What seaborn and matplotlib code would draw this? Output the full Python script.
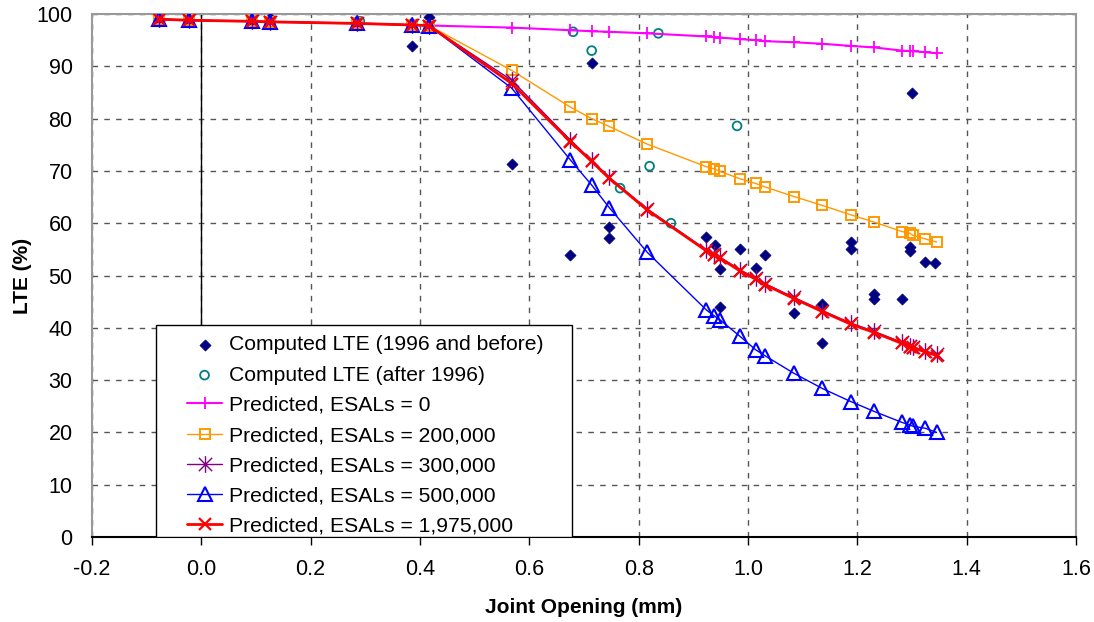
import numpy as np
import matplotlib
matplotlib.use("Agg")
import matplotlib.pyplot as plt
from matplotlib.path import Path
from matplotlib.patches import Rectangle
import seaborn as sns

# joint opening (mm) where the model was evaluated
x_pred = [-0.077, -0.022, 0.093, 0.125, 0.284, 0.386, 0.416, 0.568, 0.675, 0.714,
          0.746, 0.816, 0.924, 0.938, 0.949, 0.985, 1.014, 1.032, 1.084, 1.136,
          1.188, 1.231, 1.282, 1.296, 1.301, 1.324, 1.345]

lte_esal_0 = [99.0, 98.8, 98.6, 98.5, 98.2, 97.9, 97.8, 97.4, 96.9, 96.7,
              96.6, 96.3, 95.7, 95.6, 95.5, 95.2, 95.0, 94.8, 94.6, 94.3,
              93.9, 93.6, 93.0, 92.9, 92.9, 92.7, 92.5]
lte_esal_200k = [99.0, 98.8, 98.6, 98.5, 98.2, 97.9, 97.8, 89.2, 82.2, 80.0,
                 78.5, 75.1, 70.8, 70.4, 69.9, 68.5, 67.6, 66.9, 65.1, 63.4,
                 61.6, 60.2, 58.4, 58.1, 57.7, 57.0, 56.4]
lte_esal_300k = [99.0, 98.8, 98.6, 98.5, 98.2, 97.9, 97.8, 87.3, 75.9, 72.0,
                 68.8, 62.7, 54.9, 54.1, 53.5, 51.1, 49.5, 48.4, 45.8, 43.3,
                 40.9, 39.3, 37.2, 36.6, 36.4, 35.6, 34.9]
lte_esal_500k = [99.0, 98.8, 98.6, 98.5, 98.2, 97.9, 97.8, 85.8, 72.1, 67.3,
                 63.0, 54.4, 43.4, 42.3, 41.5, 38.4, 35.8, 34.6, 31.3, 28.4,
                 25.9, 24.0, 21.9, 21.4, 21.2, 20.8, 20.0]
lte_esal_1975k = [99.0, 98.8, 98.6, 98.5, 98.2, 97.9, 97.8, 86.7, 75.6, 71.8,
                  68.6, 62.5, 54.7, 53.9, 53.3, 50.9, 49.3, 48.2, 45.6, 43.1,
                  40.7, 39.1, 37.0, 36.4, 36.2, 35.4, 34.7]

# computed LTE, 1996 and before
x_old = [-0.077, -0.022, 0.093, 0.125, 0.284, 0.386, 0.416, 0.568, 0.675, 0.714,
         0.746, 0.746, 0.924, 0.940, 0.949, 0.949, 0.985, 1.014, 1.032, 1.084,
         1.136, 1.136, 1.188, 1.188, 1.231, 1.231, 1.282, 1.296, 1.296, 1.300,
         1.324, 1.342]
y_old = [98.6, 98.7, 98.6, 99.2, 98.0, 93.8, 99.4, 71.3, 53.9, 90.6,
         59.2, 57.2, 57.4, 55.8, 51.2, 43.9, 55.0, 51.4, 53.9, 42.8,
         44.6, 37.0, 56.5, 55.0, 46.4, 45.6, 45.6, 55.5, 54.7, 84.8,
         52.6, 52.4]

# computed LTE, after 1996
x_new = [0.290, 0.680, 0.714, 0.766, 0.820, 0.836, 0.859, 0.980]
y_new = [98.6, 96.6, 93.0, 66.7, 70.9, 96.3, 60.0, 78.6]

x_ticks = [-0.2, 0.0, 0.2, 0.4, 0.6, 0.8, 1.0, 1.2, 1.4, 1.6]
y_ticks = [0, 10, 20, 30, 40, 50, 60, 70, 80, 90, 100]

sns.set_style("white")
plt.rcParams["font.family"] = ["Liberation Sans", "DejaVu Sans"]
plt.rcParams["text.color"] = "black"
plt.rcParams["axes.labelcolor"] = "black"
plt.rcParams["xtick.color"] = "black"
plt.rcParams["ytick.color"] = "black"

# excel style asterisk: vertical bar plus an x
star = Path([(0, -1), (0, 1), (-0.8, -0.8), (0.8, 0.8), (-0.8, 0.8), (0.8, -0.8)],
            [Path.MOVETO, Path.LINETO, Path.MOVETO, Path.LINETO, Path.MOVETO, Path.LINETO])

fig = plt.figure(figsize=(10.94, 6.22), dpi=100)
ax = fig.add_axes([92 / 1094, 85 / 622, 984 / 1094, 523 / 622])

sns.scatterplot(x=x_old, y=y_old, ax=ax, marker="D", s=32, color="#000080",
                edgecolor="#000080", linewidth=0.5, label="Computed LTE (1996 and before)", zorder=3)
sns.scatterplot(x=x_new, y=y_new, ax=ax, marker="o", s=40, facecolor="none",
                edgecolor="#008080", linewidth=1.3, label="Computed LTE (after 1996)", zorder=3)

sns.lineplot(x=x_pred, y=lte_esal_0, ax=ax, estimator=None, sort=False, color="#FF00FF",
             lw=1.5, marker="+", ms=9, mew=1.3, mec="#FF00FF",
             label="Predicted, ESALs = 0", zorder=3)
sns.lineplot(x=x_pred, y=lte_esal_200k, ax=ax, estimator=None, sort=False, color="#FF9900",
             lw=1.0, marker="s", ms=7, mew=1.4, mfc="none", mec="#FF9900",
             label="Predicted, ESALs = 200,000", zorder=3)
sns.lineplot(x=x_pred, y=lte_esal_300k, ax=ax, estimator=None, sort=False, color="#800080",
             lw=1.0, marker=star, ms=12, mew=1.0, mec="#800080",
             label="Predicted, ESALs = 300,000", zorder=3)
sns.lineplot(x=x_pred, y=lte_esal_500k, ax=ax, estimator=None, sort=False, color="#0000FF",
             lw=1.0, marker="^", ms=10, mew=1.5, mfc="none", mec="#0000FF",
             label="Predicted, ESALs = 500,000", zorder=3)
sns.lineplot(x=x_pred, y=lte_esal_1975k, ax=ax, estimator=None, sort=False, color="#FF0000",
             lw=2.0, marker="x", ms=9, mew=1.6, mec="#FF0000",
             label="Predicted, ESALs = 1,975,000", zorder=3)

ax.set_xlim(-0.2, 1.6)
ax.set_ylim(0, 100)
ax.set_xticks(x_ticks)
ax.set_xticklabels([f"{t:.1f}" for t in x_ticks])
ax.set_yticks(y_ticks)
ax.tick_params(axis="x", direction="out", length=6, width=1, pad=10, labelsize=15.5, bottom=True)
ax.tick_params(axis="y", length=0, pad=14, labelsize=15.5)

ax.set_axisbelow(True)
ax.grid(True, color="#555555", lw=1, ls=(0, (4, 4.5)))
ax.axvline(0, color="black", lw=1, zorder=1)

for side in ["top", "right", "left"]:
    ax.spines[side].set_color("#999999")
    ax.spines[side].set_linewidth(1.5)
ax.spines["bottom"].set_color("black")
ax.spines["bottom"].set_linewidth(1.5)

ax.set_xlabel("Joint Opening (mm)", fontsize=15, fontweight="bold", labelpad=13)
ax.set_ylabel("LTE (%)", fontsize=15, fontweight="bold", labelpad=3)

# legend box drawn as a plain rectangle so it can sit on the x axis
box = Rectangle((0.0648, 0.0), 0.4232, 0.405, transform=ax.transAxes,
                facecolor="white", edgecolor="black", lw=1, zorder=4)
ax.add_patch(box)

order = ["Computed LTE (1996 and before)", "Computed LTE (after 1996)",
         "Predicted, ESALs = 0", "Predicted, ESALs = 200,000",
         "Predicted, ESALs = 300,000", "Predicted, ESALs = 500,000",
         "Predicted, ESALs = 1,975,000"]
handles, labels = ax.get_legend_handles_labels()
lookup = dict(zip(labels, handles))
leg = ax.legend([lookup[k] for k in order], order, loc="upper left",
                bbox_to_anchor=(0.0854, 0.4055), frameon=False, borderpad=0,
                handlelength=1.7, handletextpad=0.3, labelspacing=0.53, fontsize=15.2)
leg.set_zorder(6)

fig.savefig("out.png", dpi=100)
